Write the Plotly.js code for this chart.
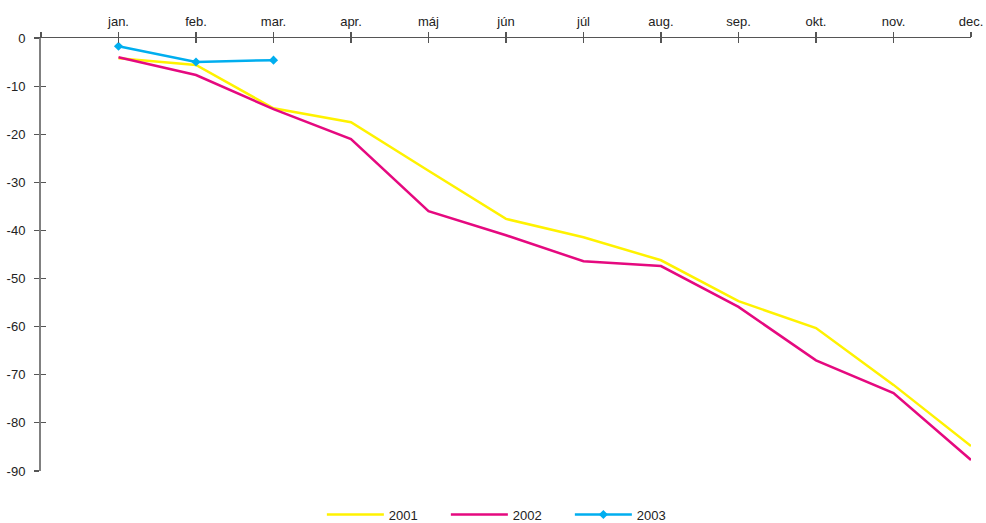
<!DOCTYPE html>
<html>
<head>
<meta charset="utf-8">
<script src="https://cdn.plot.ly/plotly-3.0.1.min.js"></script>
<style>html,body{margin:0;padding:0;background:#fff}#chart{width:986px;height:523px}</style>
</head>
<body>
<div id="chart"></div>
<script>
const months = ["jan.", "feb.", "mar.", "apr.", "máj", "jún", "júl", "aug.", "sep.", "okt.", "nov.", "dec."];
const series2001 = [-4.2, -5.6, -14.6, -17.5, -27.6, -37.6, -41.4, -46.2, -54.7, -60.3, -72.1, -84.8];
const series2002 = [-4.0, -7.7, -14.8, -21.0, -36.0, -41.0, -46.4, -47.4, -55.9, -67.0, -73.8, -87.7];
const series2003 = [-1.7, -5.0, -4.6];
const yTicks = [0, -10, -20, -30, -40, -50, -60, -70, -80, -90];

const idx = months.map((m, i) => i);
const font = {family: "Liberation Sans, Arial, sans-serif", size: 13, color: "#222"};

const traces = [
  {x: idx, y: series2001, name: "2001", type: "scatter", mode: "lines",
   line: {color: "#FFF200", width: 2.5}, hoverinfo: "skip"},
  {x: idx, y: series2002, name: "2002", type: "scatter", mode: "lines",
   line: {color: "#E5097F", width: 2.5}, hoverinfo: "skip"},
  {x: idx.slice(0, series2003.length), y: series2003, name: "2003", type: "scatter", mode: "lines+markers",
   line: {color: "#00AEEF", width: 2.5}, marker: {symbol: "diamond", size: 7, color: "#00AEEF"}, hoverinfo: "skip"}
];

const layout = {
  width: 986, height: 523,
  margin: {l: 41, r: 15, t: 38, b: 52, autoexpand: false},
  paper_bgcolor: "#fff", plot_bgcolor: "#fff",
  font: font,
  showlegend: true,
  legend: {orientation: "h", x: 0.502, xanchor: "center", y: -0.066, yanchor: "top",
           font: {family: font.family, size: 13, color: "#222"}, itemwidth: 57, entrywidth: 52,
           traceorder: "normal"},
  xaxis: {
    side: "top", range: [-1, 11], tickmode: "array",
    tickvals: [-1].concat(idx), ticktext: [""].concat(months),
    showgrid: false, zeroline: false, showline: true, linecolor: "#555", linewidth: 1.5,
    ticks: "outside", ticklen: 5, tickcolor: "#555", tickwidth: 1.2,
    tickfont: font, fixedrange: true, automargin: false
  },
  xaxis2: {
    overlaying: "x", side: "top", range: [-1, 11], tickmode: "array",
    tickvals: [-1].concat(idx), ticktext: [""].concat(idx.map(() => "")),
    showgrid: false, zeroline: false, showline: false, showticklabels: false,
    ticks: "inside", ticklen: 5, tickcolor: "#555", tickwidth: 1.2, automargin: false
  },
  yaxis: {
    range: [-90, 0], tickmode: "array", tickvals: yTicks, ticktext: yTicks.map(String),
    showgrid: false, zeroline: false, showline: true, linecolor: "#808080", linewidth: 2,
    ticks: "outside", ticklen: 5, tickcolor: "#555", tickwidth: 1.2, ticklabelstandoff: 6,
    tickfont: font, fixedrange: true, automargin: false
  },
  yaxis2: {
    overlaying: "y", range: [-90, 0], tickmode: "array", tickvals: yTicks,
    showgrid: false, zeroline: false, showline: false, showticklabels: false,
    ticks: "inside", ticklen: 5, tickcolor: "#555", tickwidth: 1.2, automargin: false
  }
};

traces.push({x: [-1], y: [0], xaxis: "x2", yaxis: "y2", mode: "markers", marker: {opacity: 0},
             showlegend: false, hoverinfo: "skip"});

Plotly.newPlot("chart", traces, layout, {staticPlot: true, displayModeBar: false});
</script>
</body>
</html>
